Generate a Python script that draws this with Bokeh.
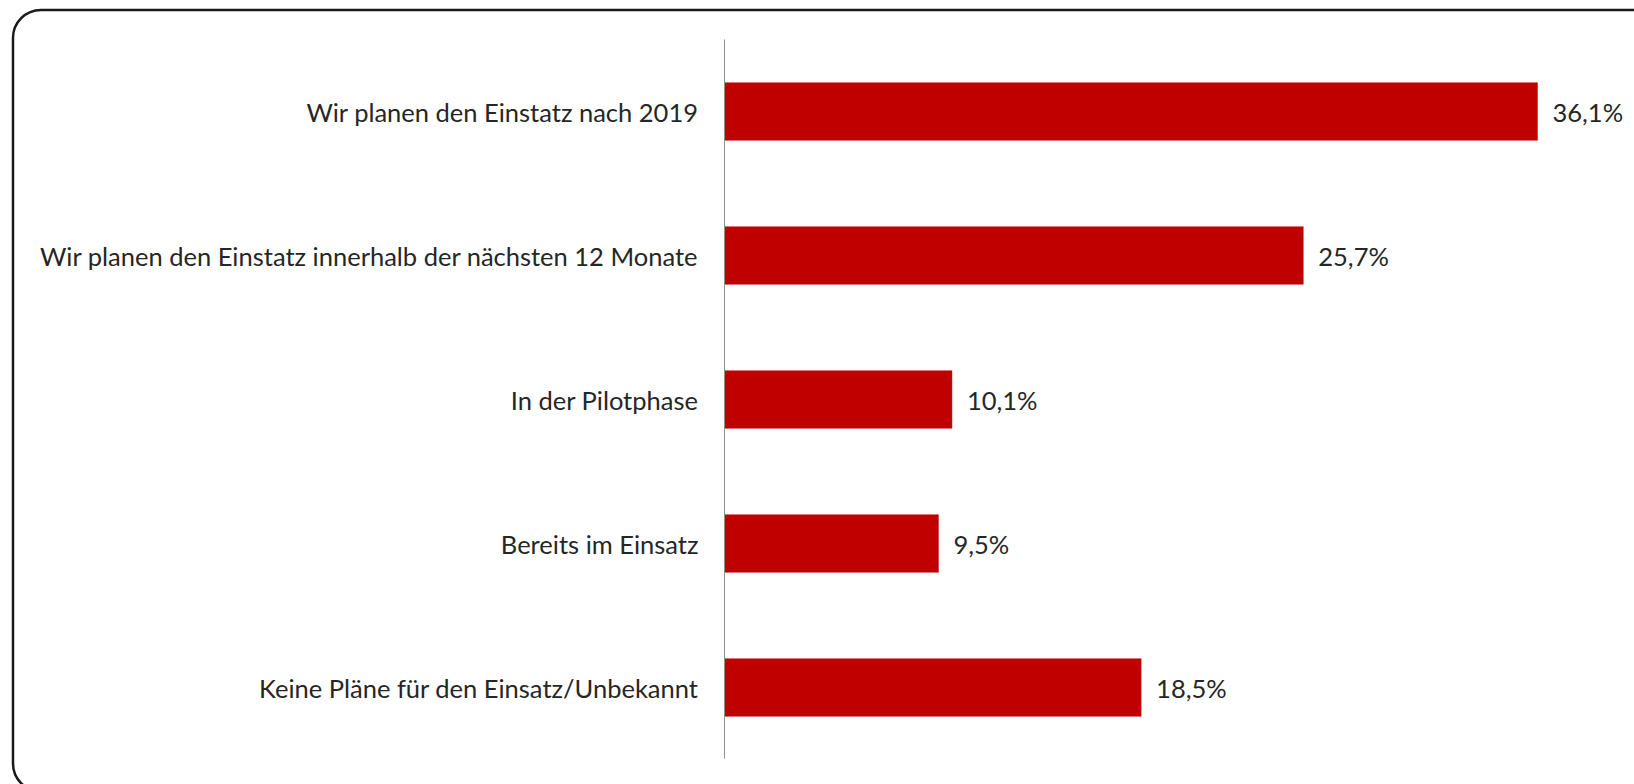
from bokeh.plotting import figure
from bokeh.models import ColumnDataSource, Range1d, BoxAnnotation
from bokeh.core.properties import value
from bokeh.embed import file_html
from bokeh.resources import INLINE

categories = [
    "Wir planen den Einstatz nach 2019",
    "Wir planen den Einstatz innerhalb der nächsten 12 Monate",
    "In der Pilotphase",
    "Bereits im Einsatz",
    "Keine Pläne für den Einsatz/Unbekannt",
]
values = [36.1, 25.7, 10.1, 9.5, 18.5]
value_labels = [f"{v:.1f}".replace(".", ",") + "%" for v in values]

FONT = "Lato"
FONT_SIZE = "25.5px"
TEXT_COLOR = "#262626"
BAR_COLOR = "#C00000"
AXIS_COLOR = "#8f8f8f"

W, H = 1634, 784
# pixel geometry of the plotting area
AX_X = 724          # x pixel of the value axis (0 %)
PX_PER_PCT = 22.52  # pixels per percentage point
CAT_TOP = 39        # top of category band area
CAT_H = 144         # pixels per category

def px2x(px):
    return (px - AX_X) / PX_PER_PCT

def px2y(py):
    return -(py - CAT_TOP - CAT_H / 2) / CAT_H

ypos = [-i for i in range(len(categories))]
source = ColumnDataSource(dict(cat=categories, y=ypos, val=values, lab=value_labels,
                               zero=[0] * len(values)))

p = figure(
    width=W, height=H,
    x_range=Range1d(px2x(0), px2x(W)),
    y_range=Range1d(px2y(H), px2y(0)),
    output_backend="svg",
    toolbar_location=None,
    x_axis_location=None, y_axis_location=None,
    min_border=0,
)
p.outline_line_color = None
p.xgrid.visible = False
p.ygrid.visible = False
p.background_fill_color = "white"
p.border_fill_color = "white"

# rounded frame (clipped at right and bottom like the original)
p.add_layout(BoxAnnotation(
    left=px2x(12.5), right=px2x(W + 60), top=px2y(9.5), bottom=px2y(791),
    fill_alpha=0, line_color="#1a1a1a", line_alpha=1.0, line_width=2.5, border_radius=28,
    level="underlay",
))

p.hbar(y="y", left=0, right="val", height=0.4, source=source,
       fill_color=BAR_COLOR, line_color=BAR_COLOR, line_width=0.5)

# category axis line
p.segment(x0=0, y0=px2y(CAT_TOP), x1=0, y1=px2y(CAT_TOP + CAT_H * len(categories) - 1),
          line_color=AXIS_COLOR, line_width=1)

# category labels
p.text(x="zero", y="y", text="cat", source=source, x_offset=-26,
       text_baseline="middle", text_align="right",
       text_font=value(FONT), text_font_size=value(FONT_SIZE), text_color=TEXT_COLOR)

# value labels
p.text(x="val", y="y", text="lab", source=source, x_offset=15,
       text_baseline="middle", text_align="left",
       text_font=value(FONT), text_font_size=value(FONT_SIZE), text_color=TEXT_COLOR)

open("out.html", "w").write(file_html(p, INLINE))
